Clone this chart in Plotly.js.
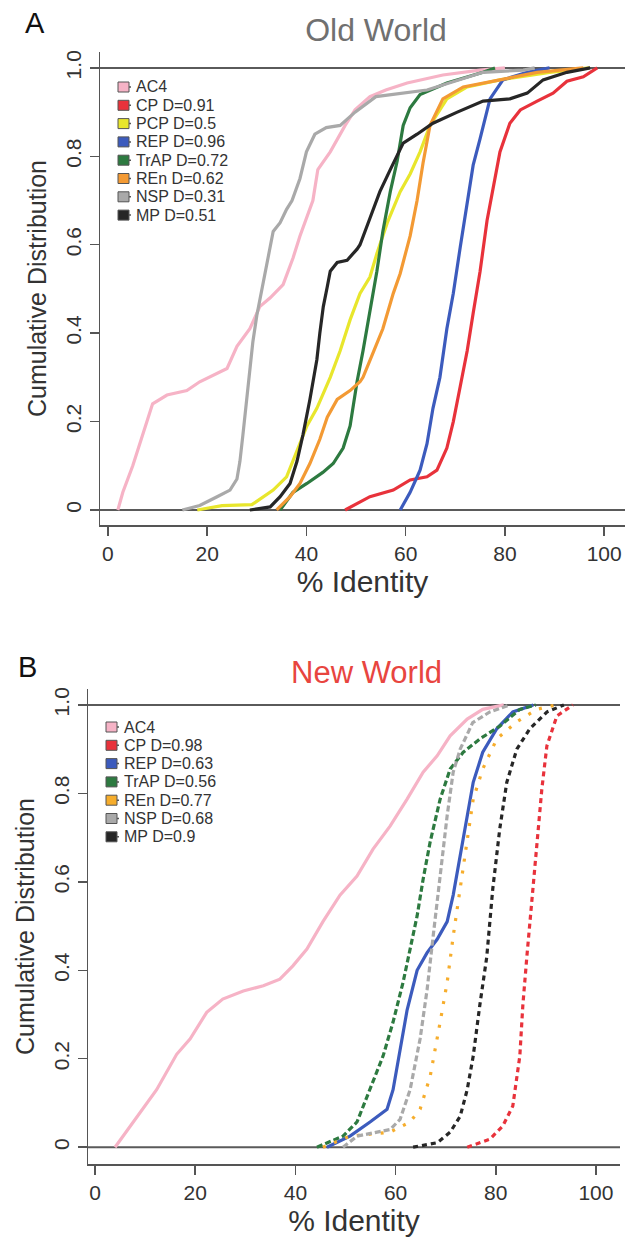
<!DOCTYPE html>
<html>
<head>
<meta charset="utf-8">
<script src="https://cdn.plot.ly/plotly-3.0.1.min.js"></script>
<style>html,body{margin:0;padding:0;background:#fff;}#chart{width:629px;height:1239px;}</style>
</head>
<body>
<div id="chart"></div>
<script>
// ---------- DATA ----------
// Panel A : Old World  (x = % identity, y = cumulative fraction)
const oldSeries = ['AC4','CP','PCP','REP','TrAP','REn','NSP','MP'];
const oldLegend = ['AC4','CP D=0.91','PCP D=0.5','REP D=0.96','TrAP D=0.72','REn D=0.62','NSP D=0.31','MP D=0.51'];

const oldAC4_x = [2,3,5,7,9,11.9,15.9,18.5,22,24,26,28.6,30.6,32.7,35.3,37.3,38.7,40,41.3,42.3,44.8,47.8,49.8,52.8,56,60.3,67.5,75,80];
const oldAC4_y = [0,0.04,0.1,0.17,0.24,0.26,0.27,0.29,0.31,0.32,0.37,0.41,0.46,0.48,0.51,0.57,0.62,0.66,0.70,0.77,0.81,0.87,0.905,0.935,0.95,0.966,0.984,0.995,1];

const oldCP_x = [47.8,52.8,57.5,60.9,64.3,66.3,68.3,69.6,71,72.4,73.6,75,76.4,77.6,79,81,83.1,86.5,89.7,92.5,95.8,98.6];
const oldCP_y = [0,0.03,0.045,0.068,0.075,0.09,0.14,0.20,0.28,0.36,0.445,0.54,0.655,0.73,0.81,0.875,0.905,0.925,0.943,0.97,0.98,1];

const oldPCP_x = [18,23,29,31.3,33.3,36,38.1,40.1,42.1,44.8,46.8,48.8,50.8,52.8,54.2,56.3,58.9,60.9,62.9,64.9,68.3,72.4,79,89,97];
const oldPCP_y = [0,0.01,0.012,0.03,0.045,0.075,0.135,0.19,0.23,0.30,0.36,0.43,0.49,0.527,0.58,0.65,0.72,0.76,0.81,0.87,0.93,0.957,0.973,0.99,1];

const oldREP_x = [58.9,60.9,62.9,64.3,65.5,66.9,68.3,69.6,71,72.4,73.6,75,77,79.6,84.5,89];
const oldREP_y = [0,0.04,0.09,0.15,0.23,0.30,0.41,0.49,0.595,0.69,0.78,0.84,0.93,0.973,0.99,1];

const oldTrAP_x = [34.7,37.3,40.1,43.3,45.4,47.4,48.8,50.2,51.4,52.8,54.2,55.4,56.9,58.3,59.5,60.9,62.9,68.3,75.6,78];
const oldTrAP_y = [0,0.04,0.06,0.085,0.105,0.14,0.19,0.29,0.36,0.45,0.54,0.63,0.72,0.79,0.87,0.91,0.94,0.966,0.99,1];

const oldREn_x = [34,36.7,38.7,40.7,42.7,44.2,46.2,48.8,50.8,51.4,53.4,55.4,57.5,58.9,60.9,62.3,63.5,64.9,67.5,71.6,79,86.5,95.8];
const oldREn_y = [0,0.03,0.06,0.105,0.16,0.21,0.25,0.27,0.29,0.30,0.355,0.41,0.49,0.535,0.62,0.70,0.785,0.87,0.93,0.957,0.973,0.99,1];

const oldNSP_x = [15,18.5,22,24.6,26,26.6,27.2,28,28.6,29.2,30,30.6,31.3,32,32.7,33.3,34.7,36,37.1,38.7,40,41.7,44,46.8,49.8,54,64.3,69,75.6,83.7,86];
const oldNSP_y = [0,0.01,0.03,0.045,0.07,0.11,0.17,0.25,0.32,0.38,0.44,0.475,0.51,0.55,0.59,0.63,0.65,0.68,0.70,0.75,0.81,0.85,0.865,0.87,0.9,0.935,0.95,0.966,0.99,0.995,1];

const oldMP_x = [28.6,32.7,34.7,36.7,38.1,39.3,40.7,42.1,42.7,43.4,44.2,44.8,46.2,48.2,50.2,50.8,52.8,54.8,56.9,59.5,62.3,65.5,70.4,75.6,81,84.5,87.7,92.5,97.2];
const oldMP_y = [0,0.007,0.03,0.06,0.11,0.17,0.25,0.34,0.40,0.46,0.505,0.54,0.56,0.565,0.59,0.60,0.66,0.72,0.77,0.83,0.85,0.875,0.9,0.925,0.93,0.943,0.973,0.99,1];

// Panel B : New World
const newSeries = ['AC4','CP','REP','TrAP','REn','NSP','MP'];
const newLegend = ['AC4','CP D=0.98','REP D=0.63','TrAP D=0.56','REn D=0.77','NSP D=0.68','MP D=0.9'];

const newAC4_x = [4,7.6,12.3,16.3,19,22.3,25.5,29.6,33.6,36.9,39.5,42.3,45.5,48.9,52.3,55.5,58.9,62.3,65.5,68.3,70.9,74.3,77.4,81.6];
const newAC4_y = [0,0.057,0.13,0.21,0.245,0.305,0.335,0.353,0.365,0.38,0.41,0.448,0.51,0.57,0.613,0.674,0.726,0.787,0.848,0.885,0.93,0.968,0.99,1];

const newCP_x = [74.3,78.8,81.4,83.4,84.8,85.4,86.2,87.4,88.2,89.2,90.2,92.2,95.4];
const newCP_y = [0,0.018,0.048,0.093,0.206,0.32,0.43,0.584,0.697,0.81,0.907,0.975,1];

const newREP_x = [46.3,50.9,54.9,58.3,59.5,60.9,62.3,64.3,66.3,68.3,70.3,71.5,72.9,74.3,75.5,77.4,80.2,83.4,87.5];
const newREP_y = [0,0.025,0.057,0.086,0.13,0.22,0.31,0.40,0.44,0.47,0.51,0.57,0.66,0.75,0.825,0.893,0.946,0.984,1];

const newTrAP_x = [44.3,49.5,52.3,54.9,57.5,59.5,61.5,62.9,64.3,65.5,66.9,68.9,70.9,73.5,76.8,80.8,84.8,88];
const newTrAP_y = [0,0.025,0.057,0.13,0.206,0.283,0.373,0.448,0.523,0.606,0.69,0.787,0.855,0.893,0.923,0.952,0.99,1];

const newREn_x = [45.5,50.9,58.9,62.9,64.9,66.9,68.9,70.3,71.5,72.9,74.3,75.5,77.4,80.2,84.2,88.2,92];
const newREn_y = [0,0.025,0.034,0.057,0.086,0.16,0.283,0.373,0.477,0.584,0.697,0.787,0.855,0.923,0.962,0.99,1];

const newNSP_x = [49.5,52.3,56.3,58.9,60.9,62.9,64.9,66.3,67.5,68.9,70.3,71.5,72.9,75.4,78.8,82.8];
const newNSP_y = [0,0.025,0.034,0.04,0.063,0.13,0.245,0.357,0.477,0.613,0.75,0.848,0.9,0.96,0.984,1];

const newMP_x = [63.5,68.3,70.9,72.9,74.3,75.5,76.8,78.2,79.4,80.8,82.2,84.2,86.8,90.2,93.6];
const newMP_y = [0,0.01,0.034,0.07,0.13,0.206,0.32,0.43,0.584,0.72,0.825,0.9,0.946,0.984,1];

const xTicks = [0,20,40,60,80,100];
const yTicks = [0,0.2,0.4,0.6,0.8,1];
const yTickText = ['0','0.2','0.4','0.6','0.8','1.0'];

// ---------- STYLE ----------
const W = 629, H = 1239;
const FONT = 'Liberation Sans, Arial, Helvetica, sans-serif';
const colors = {AC4:'#f6b3c6', CP:'#e8323b', PCP:'#e8e62c', REP:'#3c5bbd', TrAP:'#2d7a40', REn:'#f39a34', NSP:'#a9a9a9', MP:'#262626'};
const colorsB = Object.assign({}, colors, {REn:'#f6ad2c'});
const dashA = {AC4:'solid', CP:'solid', PCP:'solid', REP:'solid', TrAP:'solid', REn:'solid', NSP:'solid', MP:'solid'};
const dashB = {AC4:'solid', CP:'5px,4px', REP:'solid', TrAP:'6px,3px', REn:'3px,9px', NSP:'6px,3px', MP:'5px,4px'};

const oldData = {AC4:[oldAC4_x,oldAC4_y], CP:[oldCP_x,oldCP_y], PCP:[oldPCP_x,oldPCP_y], REP:[oldREP_x,oldREP_y],
  TrAP:[oldTrAP_x,oldTrAP_y], REn:[oldREn_x,oldREn_y], NSP:[oldNSP_x,oldNSP_y], MP:[oldMP_x,oldMP_y]};
const newData = {AC4:[newAC4_x,newAC4_y], CP:[newCP_x,newCP_y], REP:[newREP_x,newREP_y], TrAP:[newTrAP_x,newTrAP_y],
  REn:[newREn_x,newREn_y], NSP:[newNSP_x,newNSP_y], MP:[newMP_x,newMP_y]};

const traces = [];
oldSeries.forEach((s,i) => {
  traces.push({type:'scatter', mode:'lines', x:oldData[s][0], y:oldData[s][1], xaxis:'x', yaxis:'y',
    name:oldLegend[i], showlegend:false, line:{color:colors[s], width:3.2, dash:dashA[s]}});
});
newSeries.forEach((s,i) => {
  traces.push({type:'scatter', mode:'lines', x:newData[s][0], y:newData[s][1], xaxis:'x2', yaxis:'y2',
    name:newLegend[i], showlegend:false, line:{color:colorsB[s], width:3.2, dash:dashB[s]}});
});

// ---------- LAYOUT ----------
const px = p => p / W;
const py = p => 1 - p / H;

function xAxis(domL, domR, range, anchor){
  return {domain:[px(domL), px(domR)], range:range, anchor:anchor, showgrid:false, zeroline:false,
    showline:true, linecolor:'#555', linewidth:1.5, ticks:'outside', ticklen:9, tickwidth:1.5, tickcolor:'#555',
    tickvals:xTicks, tickfont:{family:FONT, size:21, color:'#333'},
    title:{text:'% Identity', font:{family:FONT, size:30, color:'#333'}, standoff:6}};
}
function yAxis(domB, domT, range, anchor){
  return {domain:[py(domB), py(domT)], range:range, anchor:anchor, showgrid:false, zeroline:false,
    showline:true, linecolor:'#555', linewidth:1.5, ticks:'outside', ticklen:9, tickwidth:1.5, tickcolor:'#555',
    tickvals:yTicks, ticktext:yTickText, tickangle:-90, tickfont:{family:FONT, size:21, color:'#333'},
    title:{text:'Cumulative Distribution', font:{family:FONT, size:25, color:'#333'}, standoff:8}};
}

const shapes = [];
const annotations = [];
[['x','y'],['x2','y2']].forEach(([xa,ya]) => {
  [0,1].forEach(v => shapes.push({type:'line', xref:xa+' domain', yref:ya, x0:0, x1:1, y0:v, y1:v,
    line:{color:'#5a5a5a', width:2}, layer:'below'}));
});

function addLegend(series, labels, cols, boxL, textL, y0, step){
  series.forEach((s,i) => {
    const yc = y0 + i*step;
    shapes.push({type:'rect', xref:'paper', yref:'paper', x0:px(boxL), x1:px(boxL+11), y0:py(yc+5), y1:py(yc-5),
      fillcolor:cols[s], line:{color:'#555', width:1}});
    shapes.push({type:'line', xref:'paper', yref:'paper', x0:px(boxL+11), x1:px(boxL+13), y0:py(yc), y1:py(yc),
      line:{color:'#555', width:1.5}});
    annotations.push({xref:'paper', yref:'paper', x:px(textL), y:py(yc), xanchor:'left', yanchor:'middle',
      text:labels[i], showarrow:false, font:{family:FONT, size:16, color:'#333'}});
  });
}
addLegend(oldSeries, oldLegend, colors, 118, 134, 87, 18.3);
addLegend(newSeries, newLegend, colorsB, 106, 122, 727, 18.3);

annotations.push({xref:'paper', yref:'paper', x:px(35), y:py(23), text:'A', showarrow:false, xanchor:'center', yanchor:'middle',
  font:{family:FONT, size:29, color:'#111'}});
annotations.push({xref:'paper', yref:'paper', x:px(27), y:py(667), text:'B', showarrow:false, xanchor:'center', yanchor:'middle',
  font:{family:FONT, size:29, color:'#111'}});
annotations.push({xref:'paper', yref:'paper', x:px(366), y:py(672), text:'New World', showarrow:false, xanchor:'center', yanchor:'middle',
  font:{family:FONT, size:31, color:'#e8453f'}});

const layout = {
  width:W, height:H, margin:{l:0,r:0,t:0,b:0}, paper_bgcolor:'#fff', plot_bgcolor:'#fff', showlegend:false,
  title:{text:'Old World', x:px(376), xanchor:'center', y:py(30), yanchor:'middle', font:{family:FONT, size:32, color:'#707070'}},
  xaxis: xAxis(100, 625, [-1.6, 104.2], 'y'),
  yaxis: yAxis(525, 52, [-0.034, 1.036], 'x'),
  xaxis2: xAxis(88, 620, [-1.4, 104.8], 'y2'),
  yaxis2: yAxis(1164, 689, [-0.038, 1.036], 'x2'),
  shapes:shapes, annotations:annotations
};

Plotly.newPlot('chart', traces, layout, {staticPlot:true, displayModeBar:false});
</script>
</body>
</html>
